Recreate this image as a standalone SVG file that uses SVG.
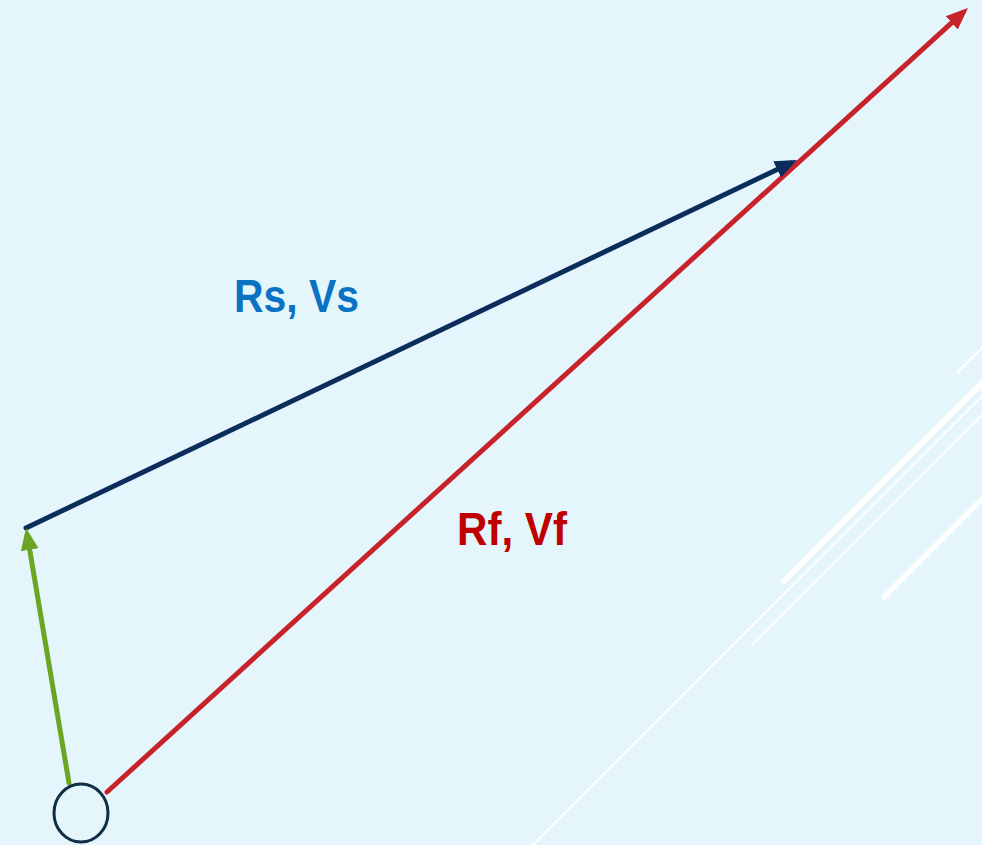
<svg xmlns="http://www.w3.org/2000/svg" width="982" height="845" viewBox="0 0 982 845">
<style>
.bg{fill:#E4F6FC}
.deco{stroke:#FFFFFF;stroke-linecap:round;fill:none}
.vec{fill:none;stroke-width:5;stroke-linecap:round}
.lbl{font-family:"Liberation Sans",Arial,sans-serif;font-weight:bold;font-size:47px}
</style>
<defs>
<marker id="hRed" markerUnits="userSpaceOnUse" markerWidth="24" markerHeight="20" refX="15" refY="9" orient="auto" viewBox="0 0 24 18"><path d="M0,0 L22,9 L0,18 z" fill="#C8232B"/></marker>
<marker id="hNavy" markerUnits="userSpaceOnUse" markerWidth="24" markerHeight="20" refX="15" refY="9" orient="auto" viewBox="0 0 24 18"><path d="M0,0 L22,9 L0,18 z" fill="#0B2D5B"/></marker>
<marker id="hGreen" markerUnits="userSpaceOnUse" markerWidth="24" markerHeight="20" refX="15" refY="9" orient="auto" viewBox="0 0 24 18"><path d="M0,0 L22,9 L0,18 z" fill="#6CA424"/></marker>
</defs>
<rect class="bg" x="0" y="0" width="982" height="845"/>
<g id="decoration">
<line class="deco" x1="958" y1="372" x2="990" y2="340" stroke-width="2.5"/>
<line class="deco" x1="784" y1="581" x2="990" y2="375" stroke-width="6"/>
<line class="deco" x1="533" y1="845" x2="990" y2="388" stroke-width="2"/>
<line class="deco" x1="752" y1="645" x2="990" y2="407" stroke-width="2"/>
<line class="deco" x1="884" y1="597" x2="990" y2="491" stroke-width="5"/>
</g>
<g id="connectors">
<line id="vec-rf" class="vec" x1="107" y1="792" x2="962.8" y2="12.7" stroke="#C8232B" marker-end="url(#hRed)"/>
<line id="vec-rs" class="vec" x1="26" y1="528" x2="790.7" y2="163" stroke="#0B2D5B" marker-end="url(#hNavy)"/>
<line id="vec-green" class="vec" x1="69" y1="783" x2="27.2" y2="535" stroke="#6CA424" marker-end="url(#hGreen)"/>
</g>
<g id="origin">
<ellipse cx="81" cy="813" rx="27" ry="29" fill="none" stroke="#0E2E45" stroke-width="3"/>
</g>
<g id="label-rs">
<text class="lbl" x="234" y="312" fill="#0A72C2" textLength="125" lengthAdjust="spacingAndGlyphs">Rs, Vs</text>
</g>
<g id="label-rf">
<text class="lbl" x="457" y="545" fill="#C00000" textLength="110" lengthAdjust="spacingAndGlyphs">Rf, Vf</text>
</g>
</svg>
